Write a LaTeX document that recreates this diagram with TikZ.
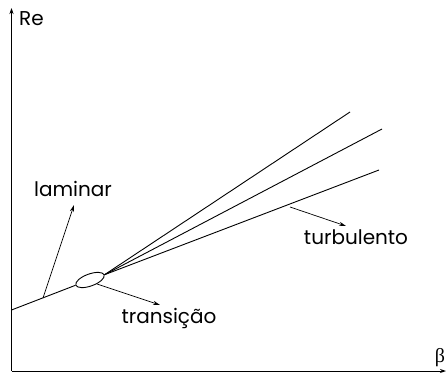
\documentclass[tikz,border=0pt]{standalone}
\usepackage{fontspec}
\setmainfont{Poppins}
\newfontfamily\grkfont{Liberation Serif}
\usetikzlibrary{arrows.meta,shapes.geometric}
\begin{document}
\begin{tikzpicture}[x=1pt,y=-1pt,
  ln/.style={line width=0.9pt},
  ptr/.style={line width=0.7pt,-{Stealth[length=7pt,width=4pt,open]}},
  lbl/.style={font=\fontsize{20}{24}\selectfont,inner sep=0pt}]
\useasboundingbox (0,0) rectangle (446,374);
% axes
\coordinate (O) at (11.5,371);
\coordinate (ytop) at (11.5,8);
\coordinate (xend) at (446,371);
\draw[ln,-{Stealth[length=6pt,width=4pt]}] (O) -- (ytop);
\draw[ln,-{Stealth[length=6pt,width=4pt]}] (O) -- (xend);
\node[lbl,anchor=west] (re) at (19,19) {Re};
\node[inner sep=0pt] (beta) at (440,358) {\grkfont\fontsize{20}{24}\selectfont β};
% laminar line and transition ellipse
\coordinate (lam0) at (11.5,310);
\node[draw,ln,ellipse,minimum width=30pt,minimum height=12pt,inner sep=0pt,rotate=20] (ell) at (90,280) {};
\draw[ln] (lam0) -- (ell.west);
% turbulent fan
\coordinate (t1) at (350,112);
\coordinate (t2) at (382,129);
\coordinate (t3) at (379,170);
\draw[ln] (ell.east) -- (t1);
\draw[ln] (ell.east) -- (t2);
\draw[ln] (ell.east) -- (t3);
% labels
\node[lbl] (lam) at (73,189) {laminar};
\node[lbl] (tra) at (169,318) {transição};
\node[lbl] (tur) at (356,237) {turbulento};
\coordinate (la) at (43,298);
\coordinate (lb) at (74,205);
\draw[ptr] (la) -- (lb);
\coordinate (ta) at (97,284);
\coordinate (tb) at (160,305);
\draw[ptr] (ta) -- (tb);
\coordinate (ua) at (290,207);
\coordinate (ub) at (346,226);
\draw[ptr] (ua) -- (ub);
\end{tikzpicture}
\end{document}
